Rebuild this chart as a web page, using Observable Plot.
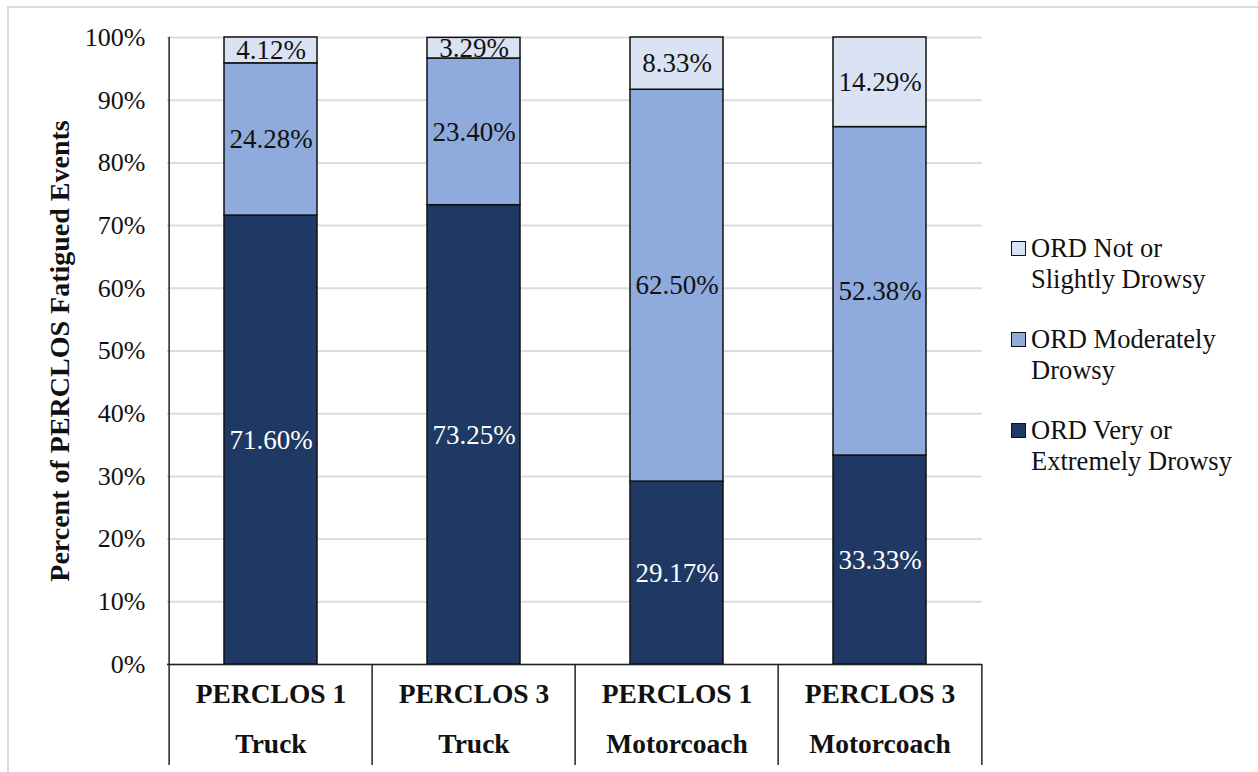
<!DOCTYPE html>
<html>
<head>
<meta charset="utf-8">
<script src="https://cdn.jsdelivr.net/npm/d3@7"></script>
<script src="https://cdn.jsdelivr.net/npm/@observablehq/plot@0.6"></script>
<style>
  body { margin: 0; background: #fff; font-family: "Liberation Serif", "Times New Roman", serif; }
  #wrap { position: relative; width: 1258px; height: 772px; overflow: hidden; }
  #border { position: absolute; left: 7px; top: 6px; width: 1400px; height: 1000px;
            border-left: 2px solid #d9d9d9; border-top: 2px solid #d9d9d9; pointer-events: none; }
  #chart { position: absolute; left: 0; top: 0; }
  #legend { position: absolute; left: 1011px; top: 233px; font-size: 26.5px; color: #111; }
  .item { display: flex; align-items: flex-start; line-height: 31px; margin-bottom: 29px; }
  .sw { flex: none; width: 13px; height: 13px; border: 1.5px solid #111; margin-top: 8px; margin-right: 5px; }
</style>
</head>
<body>
<div id="wrap">
  <div id="chart"></div>
  <div id="legend"></div>
  <div id="border"></div>
</div>
<script>
// Categories: sensor measure and vehicle type
const measures = ["PERCLOS 1", "PERCLOS 3", "PERCLOS 1", "PERCLOS 3"];
const vehicles = ["Truck", "Truck", "Motorcoach", "Motorcoach"];

// Observer rating of drowsiness (ORD) series, stacked bottom to top
const series = ["ORD Very or Extremely Drowsy", "ORD Moderately Drowsy", "ORD Not or Slightly Drowsy"];
const legendLines = [["ORD Very or", "Extremely Drowsy"], ["ORD Moderately", "Drowsy"], ["ORD Not or", "Slightly Drowsy"]];
const veryExtreme = [71.60, 73.25, 29.17, 33.33];
const moderate    = [24.28, 23.40, 62.50, 52.38];
const notSlight   = [4.12, 3.29, 8.33, 14.29];
const colors = ["#203864", "#8faadc", "#dae3f3"];

const yTicks = [0, 10, 20, 30, 40, 50, 60, 70, 80, 90, 100];

const categories = measures.map((m, i) => `${m}\n${vehicles[i]}`);
const values = [veryExtreme, moderate, notSlight];
const rows = [];
series.forEach((s, k) => categories.forEach((c, i) => rows.push({cat: c, series: s, value: values[k][i]})));

// Layout
const width = 1258, height = 772;
const marginLeft = 167, marginRight = 276, marginTop = 37, marginBottom = 108;
const step = (width - marginLeft - marginRight) / categories.length;
const plotH = height - marginTop - marginBottom;
const axisDepth = 101;                      // category cells extend this far below the baseline
const below = -axisDepth / plotH * 100;     // same depth in y units
const padInner = 0.544;

const pct = d => d.value.toFixed(2) + "%";
const onDark = d => d.series === series[0];

const chart = Plot.plot({
  width, height, marginLeft, marginRight, marginTop, marginBottom,
  style: {fontFamily: "'Liberation Serif', 'Times New Roman', serif", color: "#111", background: "transparent"},
  x: {domain: categories, paddingInner: padInner, paddingOuter: padInner / 2, axis: null},
  y: {domain: [0, 100], axis: null},
  color: {domain: series, range: colors},
  marks: [
    Plot.gridY(yTicks, {stroke: "#dcdcdc", strokeOpacity: 1, strokeWidth: 2}),
    Plot.barY(rows, {x: "cat", y: "value", fill: "series", stroke: "#111", strokeWidth: 1.5}),
    // segment labels centred in each stacked segment
    Plot.text(rows, Plot.stackY({
      x: "cat", y: "value", z: "series",
      text: d => onDark(d) ? null : pct(d), fill: "#111", fontSize: 27
    })),
    Plot.text(rows, Plot.stackY({
      x: "cat", y: "value", z: "series",
      text: d => onDark(d) ? pct(d) : null, fill: "white", fontSize: 27
    })),
    Plot.ruleY([0], {stroke: "#222", strokeWidth: 1.5}),
    // vertical value axis line, continuing down through the category band
    Plot.ruleX([categories[0]], {dx: -step / 2, y1: 100, y2: below, stroke: "#222", strokeWidth: 1.5}),
    // category separators below the baseline
    Plot.ruleX(categories.slice(1), {dx: -step / 2, y1: 0, y2: below, stroke: "#222", strokeWidth: 1.5}),
    Plot.ruleX([categories[categories.length - 1]], {dx: step / 2, y1: 0, y2: below, stroke: "#222", strokeWidth: 1.5}),
    Plot.axisY({ticks: yTicks, tickFormat: d => d + "%", tickSize: 0, tickPadding: 22, fontSize: 26, label: null}),
    Plot.axisX({tickSize: 0, tickPadding: 3, fontSize: 27.5, fontWeight: "bold", lineHeight: 1.82, label: null}),
    Plot.text(["Percent of PERCLOS Fatigued Events"], {
      frameAnchor: "left", textAnchor: "middle", rotate: -90, dx: -107,
      fontSize: 28, fontWeight: "bold", fill: "#111"
    })
  ]
});
document.getElementById("chart").appendChild(chart);

// Legend, top entry first
const legend = document.getElementById("legend");
[2, 1, 0].forEach(k => {
  const item = document.createElement("div");
  item.className = "item";
  const sw = document.createElement("div");
  sw.className = "sw";
  sw.style.background = colors[k];
  const label = document.createElement("div");
  label.innerHTML = legendLines[k].join("<br>");
  item.appendChild(sw);
  item.appendChild(label);
  legend.appendChild(item);
});
</script>
</body>
</html>
